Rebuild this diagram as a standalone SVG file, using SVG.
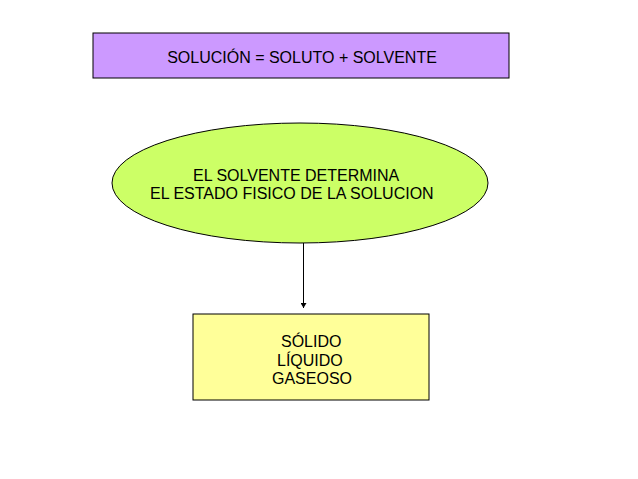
<svg xmlns="http://www.w3.org/2000/svg" width="638" height="479" viewBox="0 0 638 479">
<style>
.t{font-family:"Liberation Sans",Arial,sans-serif;font-size:16px;fill:#000}
.s{stroke:#000;stroke-width:1}
</style>
<defs>
<marker id="ah" markerWidth="6" markerHeight="6" refX="5" refY="3" orient="auto" markerUnits="userSpaceOnUse">
<path d="M0,0 L5,3 L0,6 Z" fill="#000"/>
</marker>
</defs>
<rect width="638" height="479" fill="#fff"/>
<g id="connectors">
<line class="s" x1="303.5" y1="243" x2="303.5" y2="308" marker-end="url(#ah)"/>
</g>
<g id="node-solucion">
<rect class="s" x="93" y="33" width="416" height="45" fill="#CC99FF"/>
<text class="t" x="302" y="63" text-anchor="middle">SOLUCIÓN = SOLUTO + SOLVENTE</text>
</g>
<g id="node-solvente">
<ellipse class="s" cx="300" cy="183" rx="188" ry="60" fill="#CCFF66"/>
<text class="t" x="193" y="181">EL SOLVENTE DETERMINA</text>
<text class="t" x="150" y="199">EL ESTADO FISICO DE LA SOLUCION</text>
</g>
<g id="node-estados">
<rect class="s" x="193" y="314" width="236" height="86" fill="#FFFF99"/>
<text class="t" x="281" y="347">SÓLIDO</text>
<text class="t" x="277" y="366">LÍQUIDO</text>
<text class="t" x="272" y="384">GASEOSO</text>
</g>
</svg>
